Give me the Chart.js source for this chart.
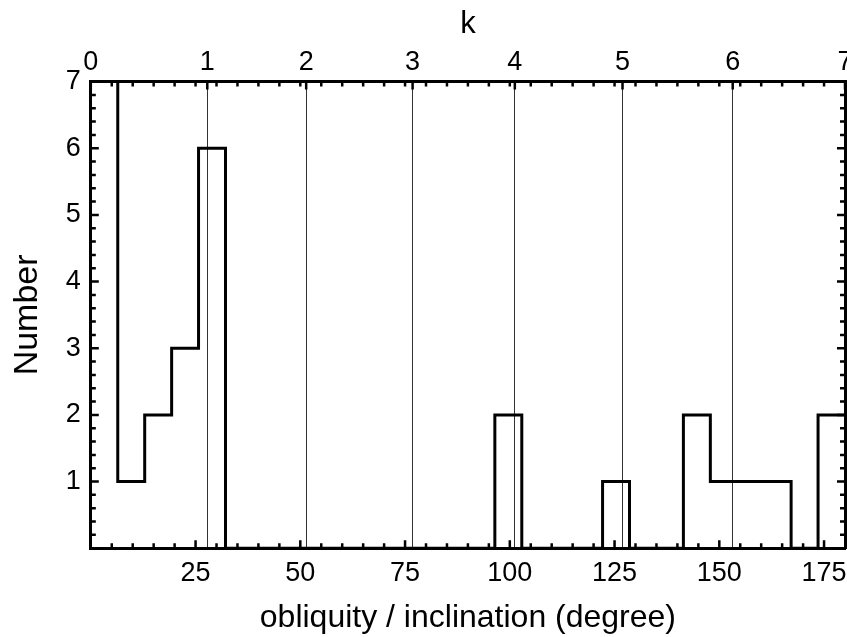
<!DOCTYPE html>
<html>
<head>
<meta charset="utf-8">
<script src="https://cdn.jsdelivr.net/npm/chart.js@4/dist/chart.umd.min.js"></script>
<style>
  body { margin: 0; background: #fff; }
</style>
</head>
<body>
<canvas id="histChart" width="847" height="637"></canvas>
<script>
// Histogram bin edges (degree) and counts
var binEdges = [0, 6.43, 12.86, 19.29, 25.71, 32.14, 38.57, 45, 51.43, 57.86, 64.29,
    70.71, 77.14, 83.57, 90, 96.43, 102.86, 109.29, 115.71, 122.14, 128.57,
    135, 141.43, 147.86, 154.29, 160.71, 167.14, 173.57, 180];
var binCounts = [7, 1, 2, 3, 6, 0, 0, 0, 0, 0, 0, 0, 0, 0,
    0, 2, 0, 0, 0, 1, 0, 0, 2, 1, 1, 1, 0, 2];

// top axis: k values and where they sit on the degree axis
var kLabels = ['0', '1', '2', '3', '4', '5', '6', '7'];
var kPositions = [0, 27.8, 51.4, 76.8, 101.2, 126.9, 153.2, 180];

// tick labels
var xTickValues = [25, 50, 75, 100, 125, 150, 175];
var yTickValues = [1, 2, 3, 4, 5, 6, 7];

// step points: each edge carries the count of the bin that starts there
var histPoints = binEdges.map(function (e, i) {
    return { x: e, y: binCounts[Math.min(i, binCounts.length - 1)] };
});

var FONT = 'Liberation Sans, Arial, Helvetica, sans-serif';

// let edge labels hang over instead of shrinking the plot
function noEdgePadding(s) {
    s.paddingLeft = 0;
    s.paddingRight = 0;
}

// small inward ticks on all four sides
var innerTicks = {
    id: 'innerTicks',
    afterDatasetsDraw: function (chart) {
        var ctx = chart.ctx, a = chart.chartArea;
        var sx = chart.scales.x, sy = chart.scales.y;
        ctx.save();
        ctx.strokeStyle = '#000';
        ctx.lineWidth = 2.5;
        ctx.beginPath();
        for (var v = 5; v < 180; v += 5) {
            var px = sx.getPixelForValue(v);
            var len = (v % 25 === 0) ? 8 : 5;
            ctx.moveTo(px, a.bottom); ctx.lineTo(px, a.bottom - len);
            ctx.moveTo(px, a.top); ctx.lineTo(px, a.top + 5);
        }
        kPositions.forEach(function (k) {
            var px = sx.getPixelForValue(k);
            ctx.moveTo(px, a.top); ctx.lineTo(px, a.top + 8);
        });
        for (var j = 1; j < 35; j++) {
            var py = sy.getPixelForValue(j * 0.2);
            var l = (j % 5 === 0) ? 8 : 5;
            ctx.moveTo(a.left, py); ctx.lineTo(a.left + l, py);
            ctx.moveTo(a.right, py); ctx.lineTo(a.right - l, py);
        }
        ctx.stroke();
        ctx.restore();
    }
};

var canvas = document.getElementById('histChart');

var histChart = new Chart(canvas, {
    type: 'line',
    data: {
        datasets: [{
            data: histPoints,
            stepped: true,
            borderColor: '#000',
            borderWidth: 3,
            pointRadius: 0,
            fill: false
        }]
    },
    options: {
        responsive: false,
        animation: false,
        layout: { padding: { left: 7, right: 2, top: 6, bottom: 0 } },
        plugins: {
            legend: { display: false },
            tooltip: { enabled: false }
        },
        scales: {
            x: {
                type: 'linear',
                position: 'bottom',
                min: 0,
                max: 180,
                afterBuildTicks: function (s) {
                    s.ticks = xTickValues.map(function (v) { return { value: v }; });
                },
                afterFit: noEdgePadding,
                ticks: { color: '#000', font: { family: FONT, size: 27 }, padding: 9, maxRotation: 0 },
                grid: { drawOnChartArea: false, drawTicks: false },
                border: { color: '#000', width: 3 },
                title: {
                    display: true,
                    text: 'obliquity / inclination (degree)',
                    color: '#000',
                    font: { family: FONT, size: 32 },
                    padding: { top: 0, bottom: 0 }
                }
            },
            xTop: {
                type: 'linear',
                position: 'top',
                min: 0,
                max: 180,
                afterBuildTicks: function (s) {
                    s.ticks = kPositions.map(function (v) { return { value: v }; });
                },
                afterFit: noEdgePadding,
                ticks: {
                    color: '#000',
                    font: { family: FONT, size: 27 },
                    padding: 3,
                    maxRotation: 0,
                    callback: function (v, i) { return kLabels[i]; }
                },
                grid: { drawOnChartArea: true, drawTicks: false, color: '#333', lineWidth: 1 },
                border: { color: '#000', width: 3 },
                title: {
                    display: true,
                    text: 'k',
                    color: '#000',
                    font: { family: FONT, size: 31 },
                    padding: { top: 0, bottom: 0 }
                }
            },
            y: {
                position: 'left',
                min: 0,
                max: 7,
                afterBuildTicks: function (s) {
                    s.ticks = yTickValues.map(function (v) { return { value: v }; });
                },
                ticks: { color: '#000', font: { family: FONT, size: 27 }, padding: 10 },
                grid: { drawOnChartArea: false, drawTicks: false },
                border: { color: '#000', width: 3 },
                title: {
                    display: true,
                    text: 'Number',
                    color: '#000',
                    font: { family: FONT, size: 34 },
                    padding: { top: 0, bottom: 8 }
                }
            },
            yRight: {
                position: 'right',
                min: 0,
                max: 7,
                ticks: { display: false },
                grid: { drawOnChartArea: false, drawTicks: false },
                border: { color: '#000', width: 3 }
            }
        }
    },
    plugins: [innerTicks]
});
</script>
</body>
</html>
